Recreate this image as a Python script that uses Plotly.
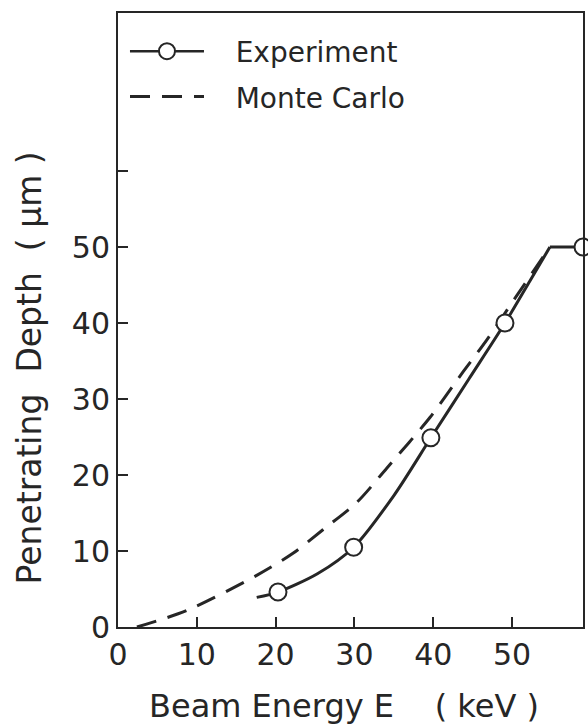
import plotly.graph_objects as go

# ---- data ----
exp_x = [20.3, 29.9, 39.7, 49.1, 59.0]
exp_y = [4.6, 10.5, 24.9, 40.0, 50.0]

exp_curve_x = [17.6, 20.3, 25.3, 29.9, 35.0, 39.7, 44.5, 49.1, 52.3, 54.8]
exp_curve_y = [3.9, 4.6, 7.0, 10.5, 17.3, 24.9, 32.6, 40.0, 45.6, 50.0]

plateau_x = [54.8, 59.0]
plateau_y = [50.0, 50.0]

mc_x = [2.4, 8.8, 17.6, 22.2, 26.0, 30.3, 34.1, 39.6, 43.8, 46.8, 50.4, 54.8]
mc_y = [0.0, 2.2, 6.8, 9.7, 12.8, 16.4, 20.9, 27.6, 33.6, 37.8, 43.3, 50.0]

x_tickvals = [0, 10, 20, 30, 40, 50]
x_ticktext = ["0", "10", "20", "30", "40", "50"]
y_tickvals = [0, 10, 20, 30, 40, 50, 60]
y_ticktext = ["0", "10", "20", "30", "40", "50", ""]

INK = "#262626"
FONT = "DejaVu Sans"
NB = "\u00a0"

fig = go.Figure()

# legend-only entry for experiment
fig.add_trace(go.Scatter(
    x=[None], y=[None], mode="lines+markers", name=NB * 3 + "Experiment",
    legendgroup="a",
    line=dict(color=INK, width=2.5),
    marker=dict(symbol="circle", size=16, color="white", line=dict(color=INK, width=2)),
))

fig.add_trace(go.Scatter(
    x=mc_x, y=mc_y, mode="lines", name=NB * 3 + "Monte Carlo",
    legendgroup="b",
    line=dict(color=INK, width=3, dash="20px,12px", shape="spline", smoothing=0.8),
))

fig.add_trace(go.Scatter(
    x=exp_curve_x, y=exp_curve_y, mode="lines", showlegend=False,
    line=dict(color=INK, width=3, shape="spline", smoothing=0.8),
))
fig.add_trace(go.Scatter(
    x=plateau_x, y=plateau_y, mode="lines", showlegend=False,
    line=dict(color=INK, width=3),
))
fig.add_trace(go.Scatter(
    x=exp_x, y=exp_y, mode="markers", showlegend=False, cliponaxis=False,
    marker=dict(symbol="circle", size=17, color="white", line=dict(color=INK, width=2)),
))

fig.update_layout(
    width=588, height=727,
    margin=dict(l=118, r=5, t=13, b=100),
    paper_bgcolor="white", plot_bgcolor="white",
    font=dict(family=FONT, color=INK),
    legend=dict(
        x=0.015, y=0.978, xanchor="left", yanchor="top",
        font=dict(size=28, family=FONT, color=INK),
        bgcolor="rgba(0,0,0,0)", itemwidth=74, tracegroupgap=6,
    ),
    showlegend=True,
    annotations=[
        dict(
            text="Penetrating  Depth  ( μm )", textangle=-90,
            xref="paper", yref="paper", x=-0.19, y=0.422,
            xanchor="center", yanchor="middle", showarrow=False,
            font=dict(size=33, family=FONT, color=INK),
        ),
        dict(
            text="Beam Energy E    ( keV )",
            xref="paper", yref="paper", x=0.486, y=-0.128,
            xanchor="center", yanchor="middle", showarrow=False,
            font=dict(size=32, family=FONT, color=INK),
        ),
    ],
)

fig.update_xaxes(
    range=[0, 59], tickvals=x_tickvals, ticktext=x_ticktext,
    showline=True, linecolor=INK, linewidth=2, mirror=True,
    ticks="inside", ticklen=10, tickwidth=2, tickcolor=INK,
    showgrid=False, zeroline=False, automargin=False,
    tickfont=dict(size=30, family=FONT, color=INK),
)
fig.update_yaxes(
    range=[0, 80.8], tickvals=y_tickvals, ticktext=y_ticktext,
    showline=True, linecolor=INK, linewidth=2, mirror=True,
    ticks="inside", ticklen=10, tickwidth=2, tickcolor=INK,
    showgrid=False, zeroline=False, automargin=False,
    tickfont=dict(size=30, family=FONT, color=INK),
    ticklabelstandoff=0,
)

fig.write_html("out.html")
